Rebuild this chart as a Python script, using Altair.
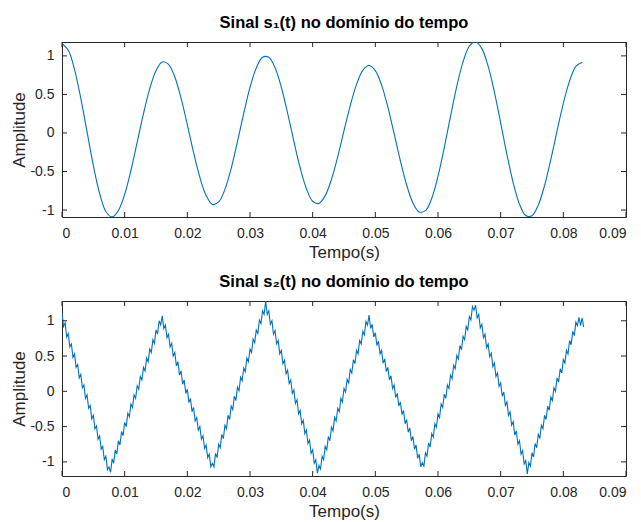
import altair as alt
import pandas as pd

# ---------------- data ----------------
# s1(t): one sample every 1 ms, t = 0 ... 0.083 s
s1_step = 0.001
s1 = [1.16, 1.072, 0.823, 0.449, 0.013, -0.421, -0.784, -1.018,
      -1.089, -1.006, -0.795, -0.486, -0.120, 0.250, 0.575, 0.808, 0.921,
      0.890, 0.726, 0.451, 0.106, -0.254, -0.576, -0.812, -0.927,
      -0.895, -0.732, -0.458, -0.112, 0.255, 0.591, 0.844, 0.982,
      0.982, 0.846, 0.593, 0.259, -0.107, -0.451, -0.723, -0.886,
      -0.914, -0.813, -0.601, -0.307, 0.029, 0.356, 0.630, 0.812, 0.875,
      0.809, 0.620, 0.334, -0.009, -0.362, -0.675, -0.907, -1.024,
      -1.008, -0.847, -0.561, -0.189, 0.218, 0.606, 0.922, 1.126,
      1.184, 1.094, 0.866, 0.530, 0.131, -0.280, -0.647, -0.923, -1.071,
      -1.073, -0.936, -0.682, -0.345, 0.028, 0.385, 0.676, 0.864, 0.918]

# s2(t): one sample every 0.25 ms, t = 0 ... 0.08325 s
s2_step = 0.00025
s2 = [1.11, 0.92, 0.97, 0.77, 0.82, 0.63, 0.67, 0.48, 0.53, 0.34, 0.38, 0.19,
      0.24, 0.05, 0.09, -0.10, -0.05, -0.24, -0.20, -0.39, -0.34, -0.53, -0.49,
      -0.68, -0.63, -0.82, -0.78, -0.97, -0.92, -1.11, -1.07,
      -1.15, -0.96, -1.02, -0.83, -0.89, -0.70, -0.76, -0.57, -0.63, -0.44, -0.50,
      -0.31, -0.36, -0.18, -0.23, -0.05, -0.10, 0.08, 0.03, 0.21, 0.16, 0.34, 0.29,
      0.47, 0.42, 0.60, 0.55, 0.73, 0.68, 0.87, 0.81, 1.00, 0.94,
      1.07, 0.89, 0.94, 0.76, 0.81, 0.63, 0.68, 0.50, 0.55, 0.36, 0.42, 0.23, 0.29,
      0.10, 0.16, -0.03, 0.03, -0.16, -0.10, -0.29, -0.23, -0.42, -0.37, -0.55,
      -0.50, -0.68, -0.63, -0.81, -0.76, -0.94, -0.89, -1.07, -1.02,
      -1.07, -0.88, -0.94, -0.75, -0.80, -0.61, -0.67, -0.48, -0.53, -0.34, -0.40,
      -0.21, -0.26, -0.07, -0.13, 0.06, 0.01, 0.20, 0.15, 0.33, 0.28, 0.47, 0.42,
      0.60, 0.55, 0.74, 0.69, 0.87, 0.82, 1.01, 0.96, 1.14, 1.09, 1.28,
      1.09, 1.14, 0.95, 1.00, 0.81, 0.86, 0.67, 0.72, 0.53, 0.58, 0.39, 0.44, 0.25,
      0.30, 0.11, 0.16, -0.03, 0.02, -0.17, -0.12, -0.32, -0.27, -0.46, -0.41,
      -0.60, -0.55, -0.74, -0.69, -0.88, -0.83, -1.02, -0.97, -1.16,
      -1.05, -1.10, -0.92, -0.97, -0.78, -0.83, -0.64, -0.70, -0.51, -0.56, -0.37,
      -0.42, -0.24, -0.29, -0.10, -0.15, 0.04, -0.01, 0.17, 0.12, 0.31, 0.26, 0.45,
      0.39, 0.58, 0.53, 0.72, 0.67, 0.85, 0.80, 0.99, 0.94,
      1.08, 0.89, 0.95, 0.77, 0.83, 0.65, 0.71, 0.53, 0.58, 0.40, 0.46, 0.28, 0.34,
      0.16, 0.22, 0.04, 0.09, -0.09, -0.03, -0.21, -0.15, -0.33, -0.27, -0.46,
      -0.40, -0.58, -0.52, -0.70, -0.64, -0.82, -0.76, -0.95, -0.89, -1.07, -1.01,
      -1.06, -0.87, -0.92, -0.73, -0.79, -0.60, -0.65, -0.46, -0.51, -0.32, -0.37,
      -0.18, -0.23, -0.04, -0.10, 0.09, 0.04, 0.23, 0.18, 0.37, 0.32, 0.51, 0.46,
      0.65, 0.59, 0.78, 0.73, 0.92, 0.87, 1.06, 1.01, 1.20, 1.15,
      1.22, 1.04, 1.09, 0.90, 0.95, 0.76, 0.81, 0.62, 0.67, 0.49, 0.54, 0.35, 0.40,
      0.21, 0.26, 0.07, 0.12, -0.07, -0.01, -0.20, -0.15, -0.34, -0.29, -0.48,
      -0.43, -0.62, -0.56, -0.75, -0.70, -0.89, -0.84, -1.03, -0.98, -1.17,
      -1.01, -1.06, -0.87, -0.93, -0.74, -0.80, -0.61, -0.66, -0.48, -0.53, -0.34,
      -0.40, -0.21, -0.27, -0.08, -0.13, 0.05, 0.00, 0.19, 0.13, 0.32, 0.26, 0.45,
      0.40, 0.58, 0.53, 0.72, 0.66, 0.85, 0.79, 0.98, 0.93,
      1.05, 0.93, 1.04, 0.91]

x_ticks = [0, 0.01, 0.02, 0.03, 0.04, 0.05, 0.06, 0.07, 0.08, 0.09]
y_ticks = [-1, -0.5, 0, 0.5, 1]
x_domain = [0, 0.09]
y1_domain = [-1.09, 1.18]
y2_domain = [-1.2, 1.28]
title1 = "Sinal s\u2081(t) no domínio do tempo"
title2 = "Sinal s\u2082(t) no domínio do tempo"

# ---------------- chart ----------------
W, H = 564, 175
LINE = "#0072BD"
INK = "#262626"
FONT = "Liberation Sans"

df1 = pd.DataFrame({"t": [i * s1_step for i in range(len(s1))], "v": s1})
df2 = pd.DataFrame({"t": [i * s2_step for i in range(len(s2))], "v": s2})
xt = pd.DataFrame({"t": x_ticks})
yt = pd.DataFrame({"v": y_ticks})

label_expr = "datum.value < 0 ? '-' + format(-datum.value, '~g') : format(datum.value, '~g')"


def panel(df, title, ydom, interp):
    xs = alt.Scale(domain=x_domain, nice=False, zero=False)
    ys = alt.Scale(domain=ydom, nice=False, zero=False)
    xax = alt.Axis(values=x_ticks, title="Tempo(s)", labelExpr=label_expr,
                   labelPadding=9, titlePadding=4)
    yax = alt.Axis(values=y_ticks, title="Amplitude", labelExpr=label_expr,
                   labelPadding=8, titlePadding=1)
    X = alt.X("t:Q", scale=xs, axis=xax)
    Y = alt.Y("v:Q", scale=ys, axis=yax)
    line = alt.Chart(df).mark_line(color=LINE, strokeWidth=1.1, interpolate=interp, clip=True).encode(
        x=X, y=Y)
    tick_style = dict(color=INK, strokeWidth=1)
    bt = alt.Chart(xt).mark_rule(**tick_style).encode(x=X, y=alt.value(H), y2=alt.value(H - 5))
    tt = alt.Chart(xt).mark_rule(**tick_style).encode(x=X, y=alt.value(0), y2=alt.value(5))
    lt = alt.Chart(yt).mark_rule(**tick_style).encode(y=Y, x=alt.value(0), x2=alt.value(5))
    rt = alt.Chart(yt).mark_rule(**tick_style).encode(y=Y, x=alt.value(W), x2=alt.value(W - 5))
    return alt.layer(line, bt, tt, lt, rt).properties(
        width=W, height=H,
        title=alt.TitleParams(title, font=FONT, fontSize=16.5, fontWeight="bold",
                              color="#000000", anchor="middle", offset=10),
    )


chart = alt.vconcat(
    panel(df1, title1, y1_domain, "catmull-rom"),
    panel(df2, title2, y2_domain, "linear"),
    spacing=12,
).properties(
    padding={"left": 2, "right": 0, "top": 6, "bottom": 0},
    background="#ffffff",
).configure_view(
    stroke=INK, strokeWidth=1,
).configure_axis(
    labelFont=FONT, labelFontSize=14, labelColor=INK,
    titleFont=FONT, titleFontSize=17, titleFontWeight="normal", titleColor=INK,
    ticks=False, domain=False, grid=False,
)

chart.save("out.html", embed_options={"renderer": "svg", "actions": False})
